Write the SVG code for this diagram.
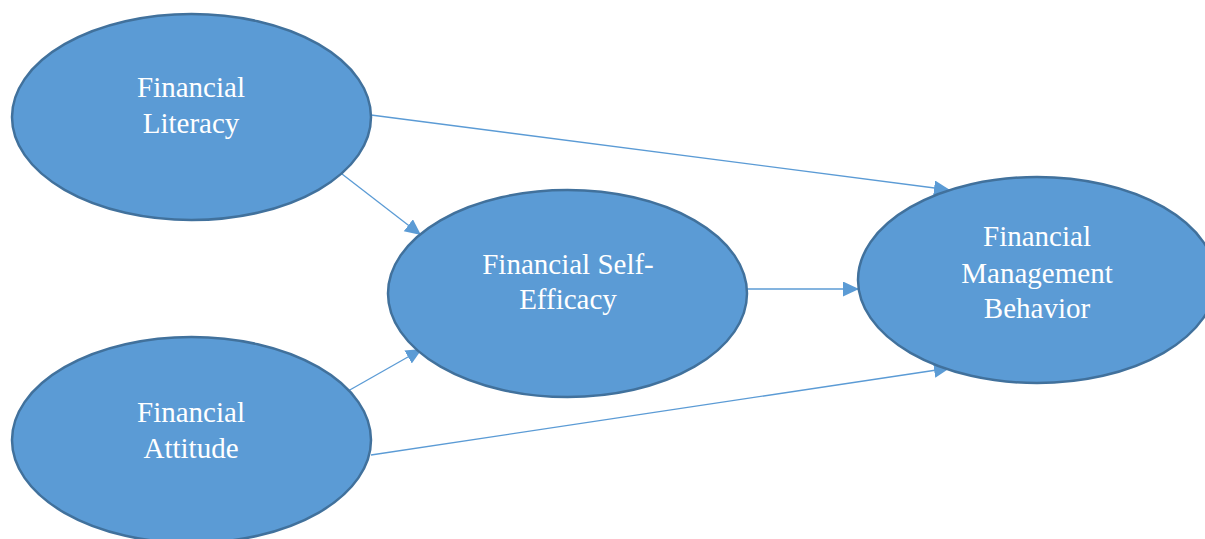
<svg xmlns="http://www.w3.org/2000/svg" width="1205" height="539" viewBox="0 0 1205 539">
  <defs>
    <marker id="arrow" markerUnits="userSpaceOnUse" markerWidth="18" markerHeight="16" refX="16" refY="7.5" orient="auto">
      <path d="M0,0 L16,7.5 L0,15 Z" fill="#5B9BD5"/>
    </marker>
  </defs>
  <style>
    .node ellipse { fill: #5B9BD5; stroke: #41719C; stroke-width: 2.5; }
    .node text { font-family: "Liberation Serif", "Times New Roman", serif; font-size: 29px; fill: #FFFFFF; text-anchor: middle; }
    .edge { stroke: #5B9BD5; stroke-width: 1.3; fill: none; marker-end: url(#arrow); }
  </style>
  <rect width="1205" height="539" fill="#FFFFFF"/>

  <!-- connectors -->
  <g id="connectors">
    <line class="edge" x1="371" y1="115" x2="950" y2="190"/>
    <line class="edge" x1="342" y1="174" x2="421" y2="235"/>
    <line class="edge" x1="348" y1="391" x2="422" y2="349"/>
    <line class="edge" x1="747" y1="289" x2="859" y2="289"/>
    <line class="edge" x1="371" y1="455" x2="950" y2="368"/>
  </g>

  <!-- nodes -->
  <g id="financial-literacy" class="node">
    <ellipse cx="191.5" cy="117" rx="179.5" ry="103"/>
    <text x="191" y="97">Financial</text>
    <text x="191" y="133">Literacy</text>
  </g>
  <g id="financial-attitude" class="node">
    <ellipse cx="191.5" cy="440" rx="179.5" ry="103"/>
    <text x="191" y="422">Financial</text>
    <text x="191" y="458">Attitude</text>
  </g>
  <g id="financial-self-efficacy" class="node">
    <ellipse cx="567.5" cy="293.5" rx="179.5" ry="103.5"/>
    <text x="568" y="274">Financial Self-</text>
    <text x="568" y="309">Efficacy</text>
  </g>
  <g id="financial-management-behavior" class="node">
    <ellipse cx="1037" cy="280" rx="179" ry="103"/>
    <text x="1037" y="246">Financial</text>
    <text x="1037" y="283">Management</text>
    <text x="1037" y="318">Behavior</text>
  </g>
</svg>
